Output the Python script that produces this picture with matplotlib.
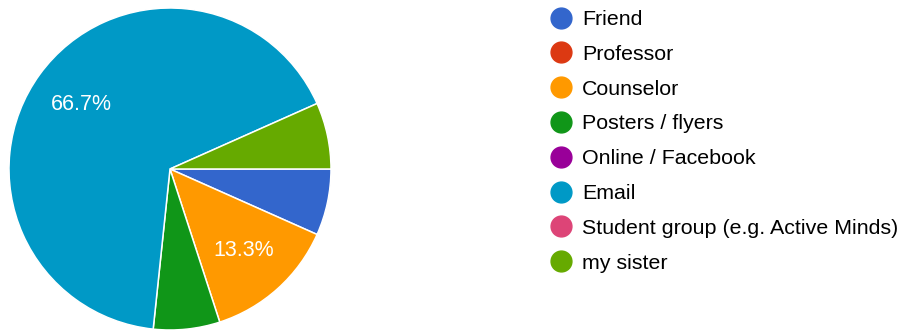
import matplotlib.pyplot as plt
from matplotlib.lines import Line2D

plt.rcParams["font.family"] = ["Liberation Sans", "DejaVu Sans"]

categories = ["Friend", "Professor", "Counselor", "Posters / flyers",
              "Online / Facebook", "Email", "Student group (e.g. Active Minds)",
              "my sister"]
responses = [1, 0, 2, 1, 0, 10, 0, 1]
colors = ["#3366cc", "#dc3912", "#ff9900", "#109618",
          "#990099", "#0099c6", "#dd4477", "#66aa00"]

W, H = 906, 331
fig = plt.figure(figsize=(W / 100, H / 100), dpi=100)

# pie centred at (170, 169) px, radius 161 px
cx, cy, r = 170, 169, 161
ax = fig.add_axes([(cx - r) / W, (H - cy - r) / H, 2 * r / W, 2 * r / H])

shown = [(v, c) for v, c in zip(responses, colors) if v > 0]
vals = [v for v, _ in shown]
cols = [c for _, c in shown]

def pct_label(p):
    return f"{p:.1f}%" if p >= 10 else ""

wedges, _, autotexts = ax.pie(
    vals, colors=cols, startangle=0, counterclock=False,
    autopct=pct_label, pctdistance=0.68, radius=1.0,
    wedgeprops=dict(edgecolor="white", linewidth=1.1),
    textprops=dict(color="white", fontsize=15.5))
ax.set_xlim(-1.0, 1.0)
ax.set_ylim(-1.0, 1.0)
ax.set_aspect("equal")
ax.axis("off")

handles = [Line2D([], [], marker="o", ls="none", markersize=15,
                  markerfacecolor=c, markeredgecolor=c) for c in colors]
fig.legend(handles, categories, loc="upper left",
           bbox_to_anchor=(550 / W, 1 - 10 / H), frameon=False,
           fontsize=15.4, labelspacing=0.74, handlelength=1.0,
           handletextpad=0.5, borderaxespad=0, borderpad=0)

fig.savefig("out.png", dpi=100, facecolor="white")
